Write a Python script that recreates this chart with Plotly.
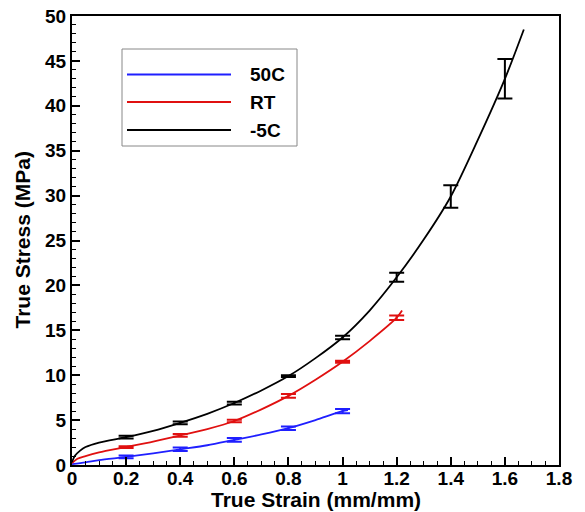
import plotly.graph_objects as go

# ---- data ----
series_names = ["50C", "RT", "-5C"]
series_colors = ["#1f1fff", "#e01010", "#000000"]

strain_50c = [0.0, 0.05, 0.1, 0.2, 0.3, 0.4, 0.5, 0.6, 0.7, 0.8, 0.9, 1.0, 1.02]
stress_50c = [0.1, 0.3, 0.55, 0.9, 1.3, 1.75, 2.2, 2.8, 3.4, 4.1, 5.0, 6.0, 6.1]

strain_rt = [0.0, 0.02, 0.05, 0.1, 0.2, 0.3, 0.4, 0.5, 0.6, 0.7, 0.8, 0.9, 1.0, 1.1, 1.2, 1.22]
stress_rt = [0.2, 0.7, 1.0, 1.4, 2.0, 2.6, 3.3, 4.0, 4.9, 6.2, 7.7, 9.5, 11.5, 13.8, 16.4, 17.2]

strain_m5c = [0.0, 0.01, 0.03, 0.05, 0.1, 0.2, 0.3, 0.4, 0.5, 0.6, 0.7, 0.8, 0.9, 1.0, 1.1, 1.2,
              1.3, 1.4, 1.5, 1.6, 1.67]
stress_m5c = [0.3, 1.0, 1.6, 2.0, 2.5, 3.1, 3.8, 4.7, 5.7, 6.9, 8.3, 9.9, 11.9, 14.2, 17.2, 20.9,
              25.1, 29.9, 36.2, 43.0, 48.5]

# error bars at selected strains
err_x_50c = [0.2, 0.4, 0.6, 0.8, 1.0]
err_y_50c = [0.9, 1.75, 2.8, 4.1, 6.0]
err_v_50c = [0.15, 0.2, 0.2, 0.2, 0.25]

err_x_rt = [0.2, 0.4, 0.6, 0.8, 1.0, 1.2]
err_y_rt = [2.0, 3.3, 4.9, 7.7, 11.5, 16.4]
err_v_rt = [0.1, 0.15, 0.15, 0.2, 0.1, 0.25]

err_x_m5c = [0.2, 0.4, 0.6, 0.8, 1.0, 1.2, 1.4, 1.6]
err_y_m5c = [3.1, 4.7, 6.9, 9.9, 14.2, 20.9, 29.9, 43.0]
err_v_m5c = [0.15, 0.15, 0.15, 0.1, 0.2, 0.5, 1.25, 2.2]

x_ticks = [0, 0.2, 0.4, 0.6, 0.8, 1, 1.2, 1.4, 1.6, 1.8]
y_ticks = [0, 5, 10, 15, 20, 25, 30, 35, 40, 45, 50]

curves = [(strain_50c, stress_50c), (strain_rt, stress_rt), (strain_m5c, stress_m5c)]
errs = [(err_x_50c, err_y_50c, err_v_50c), (err_x_rt, err_y_rt, err_v_rt),
        (err_x_m5c, err_y_m5c, err_v_m5c)]

fig = go.Figure()
for name, color, (xs, ys), (ex, ey, ev) in zip(series_names, series_colors, curves, errs):
    fig.add_trace(go.Scatter(x=xs, y=ys, mode="lines", name=name,
                             line=dict(color=color, width=1.8, shape="spline", smoothing=0.8),
                             showlegend=False))
    fig.add_trace(go.Scatter(x=ex, y=ey, mode="markers", name=name + " error",
                             marker=dict(size=1, color=color, opacity=0),
                             error_y=dict(type="data", array=ev, visible=True,
                                          color=color, thickness=2, width=7.5),
                             showlegend=False, hoverinfo="skip"))

FONT = "Liberation Sans, Arial, sans-serif"

# page body has an 8px margin: figure sits at (8, 8)
OFF = 8
PL, PR, PT, PB = 72, 559, 16, 465   # plot area in window pixels
PW, PH = PR - PL, PB - PT


def px(xw):
    return (xw - PL) / PW


def py(yw):
    return (PB - yw) / PH


# manual legend (long line samples as in the reference)
shapes = [dict(type="rect", xref="paper", yref="paper",
               x0=px(122), x1=px(297), y0=py(146), y1=py(49),
               line=dict(color="#888888", width=1), fillcolor="white", layer="above")]
annotations = []
leg_rows_px = [74.5, 102, 130]
for name, color, ypx in zip(series_names, series_colors, leg_rows_px):
    shapes.append(dict(type="line", xref="paper", yref="paper",
                       x0=px(127), x1=px(231), y0=py(ypx), y1=py(ypx),
                       line=dict(color=color, width=2), layer="above"))
    annotations.append(dict(xref="paper", yref="paper", x=px(248), y=py(ypx),
                            text="<b>%s</b>" % name, showarrow=False, xanchor="left",
                            yanchor="middle", font=dict(family=FONT, size=19, color="black")))

# axis titles placed as in the reference
annotations.append(dict(xref="paper", yref="paper", x=0.5, y=py(499),
                        text="<b>True Strain (mm/mm)</b>", showarrow=False,
                        xanchor="center", yanchor="middle",
                        font=dict(family=FONT, size=21, color="black")))
annotations.append(dict(xref="paper", yref="paper", x=px(22), y=0.5,
                        text="<b>True Stress (MPa)</b>", showarrow=False, textangle=-90,
                        xanchor="center", yanchor="middle",
                        font=dict(family=FONT, size=21, color="black")))

fig.update_layout(
    width=585 - OFF, height=512 - OFF,
    margin=dict(l=PL - OFF, r=585 - PR, t=PT - OFF, b=512 - PB),
    paper_bgcolor="white", plot_bgcolor="white",
    font=dict(family=FONT, color="black"),
    shapes=shapes, annotations=annotations,
    showlegend=False,
)
fig.update_xaxes(
    range=[0, 1.8], tickvals=x_ticks, ticktext=["<b>%g</b>" % v for v in x_ticks],
    ticks="inside", ticklen=8, tickwidth=1.5, tickcolor="black",
    minor=dict(dtick=0.05, ticks="inside", ticklen=4, tickwidth=1, tickcolor="black"),
    showline=True, linecolor="black", linewidth=2, mirror=True,
    showgrid=False, zeroline=False, automargin=False,
    ticklabeloverflow="allow", ticklabelstandoff=-5,
    tickfont=dict(family=FONT, size=19, color="black"),
)
fig.update_yaxes(
    range=[0, 50], tickvals=y_ticks, ticktext=["<b>%g</b>" % v for v in y_ticks],
    ticks="inside", ticklen=8, tickwidth=1.5, tickcolor="black",
    minor=dict(dtick=1, ticks="inside", ticklen=4, tickwidth=1, tickcolor="black"),
    showline=True, linecolor="black", linewidth=2, mirror=True,
    showgrid=False, zeroline=False, automargin=False,
    ticklabeloverflow="allow",
    tickfont=dict(family=FONT, size=19, color="black"),
)

fig.write_html("out.html")
